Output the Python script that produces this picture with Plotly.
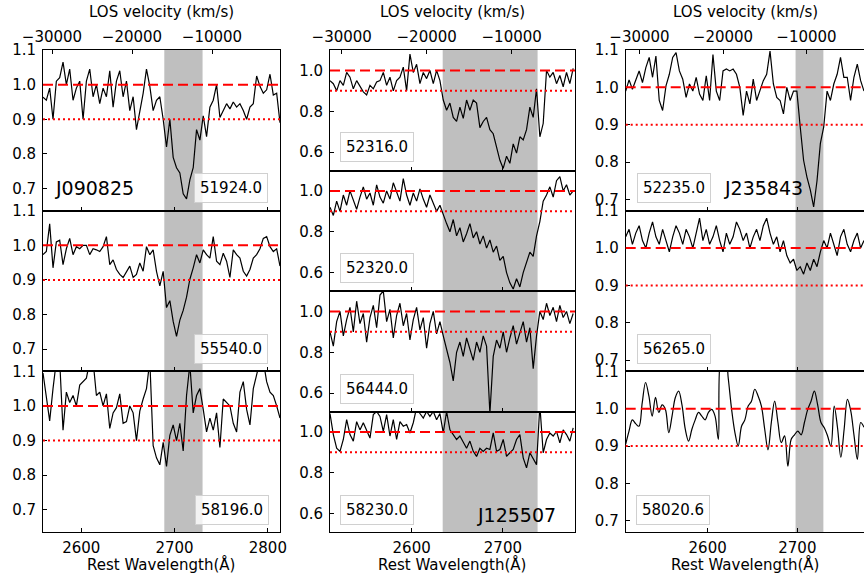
import numpy as np
import plotly.graph_objects as go

# ---- data (normalised flux, regular wavelength sampling) ----
objects = ["J090825", "J125507", "J235843"]
mjd_j0908 = ["51924.0", "55540.0", "58196.0"]
mjd_j1255 = ["52316.0", "52320.0", "56444.0", "58230.0"]
mjd_j2358 = ["52235.0", "56265.0", "58020.6"]

wave_j0908 = (2559.0, 2813.0)
wave_j1255 = (2510.5, 2777.0)
wave_j2358 = (2508.6, 2774.3)

flux_j0908_51924 = [0.964, 0.955, 0.99, 0.90, 1.01, 1.02, 1.065, 1.00, 1.045, 0.955, 0.99, 1.01,
                    0.90, 1.01, 1.045, 0.965, 1.0, 0.945, 0.99, 0.965, 1.04, 0.935, 1.01, 1.04,
                    0.965, 1.01, 0.925, 0.965, 0.87, 0.925, 0.975, 1.045, 0.995, 0.925, 0.955, 0.965,
                    0.90, 0.82, 0.90, 0.79, 0.76, 0.745, 0.685, 0.67, 0.725, 0.76, 0.87, 0.84,
                    0.91, 0.85, 0.935, 0.955, 1.0, 0.905, 0.925, 0.945, 0.93, 0.95, 0.935, 0.945,
                    0.925, 0.90, 0.935, 0.945, 1.025, 0.995, 0.975, 0.985, 1.03, 0.97, 0.975, 0.89]
flux_j0908_55540 = [0.973, 0.982, 1.062, 0.935, 1.01, 1.015, 0.944, 0.99, 1.02, 0.973, 0.996, 0.99,
                    1.0, 1.0, 0.973, 0.99, 0.987, 0.982, 0.996, 1.025, 0.944, 0.958, 0.93, 0.916,
                    0.907, 0.925, 0.94, 0.907, 0.916, 0.949, 0.925, 0.996, 0.973, 0.987, 0.925, 0.883,
                    0.925, 0.82, 0.84, 0.78, 0.737, 0.784, 0.812, 0.85, 0.902, 0.935, 0.973, 0.949,
                    0.987, 0.973, 0.963, 1.025, 0.954, 0.944, 0.977, 0.954, 0.907, 0.987, 0.973, 0.963,
                    0.925, 0.911, 0.93, 0.963, 0.973, 0.99, 1.02, 1.025, 0.996, 0.982, 0.99, 0.94]
flux_j0908_58196 = [1.095, 1.02, 0.957, 1.05, 1.13, 1.13, 0.93, 1.04, 1.01, 1.03, 1.0, 1.06,
                    1.07, 1.08, 1.13, 1.13, 1.03, 1.04, 1.0, 1.035, 0.935, 0.98, 0.995, 1.035,
                    0.95, 0.955, 1.0, 0.98, 0.90, 0.985, 1.02, 1.05, 1.13, 0.885, 0.85, 0.83,
                    0.895, 0.825, 0.915, 0.945, 0.90, 0.95, 0.87, 1.03, 1.12, 0.98, 1.03, 1.05,
                    0.99, 0.925, 0.965, 0.93, 0.98, 0.88, 1.02, 1.01, 1.0, 0.95, 0.925, 1.04,
                    1.07, 0.99, 0.945, 1.05, 1.09, 1.13, 1.13, 1.07, 1.04, 1.03, 1.0, 0.965]

flux_j1255_52316 = [0.95, 0.935, 0.90, 0.95, 0.927, 0.99, 0.967, 0.91, 0.95, 0.92, 0.895, 0.88,
                    0.927, 0.91, 0.943, 0.95, 0.99, 0.927, 0.967, 0.90, 0.95, 0.967, 1.016, 0.90,
                    1.08, 0.99, 1.03, 0.935, 0.99, 0.96, 1.0, 0.935, 1.0, 0.95, 0.855, 0.805,
                    0.84, 0.77, 0.75, 0.82, 0.765, 0.855, 0.805, 0.855, 0.84, 0.72, 0.75, 0.77,
                    0.71, 0.69, 0.625, 0.56, 0.52, 0.58, 0.545, 0.64, 0.595, 0.675, 0.66, 0.71,
                    0.82, 0.77, 0.91, 0.675, 0.74, 1.0, 0.967, 0.99, 0.935, 0.975, 0.92, 0.99,
                    0.935, 1.01]
flux_j1255_52320 = [0.92, 0.88, 0.95, 0.90, 0.98, 0.93, 1.0, 0.95, 0.91, 0.97, 1.02, 0.96,
                    0.99, 0.93, 1.03, 0.97, 0.94, 1.0, 0.96, 1.04, 0.99, 0.95, 1.06, 0.98,
                    0.93, 0.99, 0.95, 1.01, 0.96, 0.92, 0.98, 0.94, 0.90, 0.93, 0.88, 0.84,
                    0.80, 0.86, 0.78, 0.82, 0.75, 0.79, 0.84, 0.77, 0.80, 0.74, 0.78, 0.72,
                    0.76, 0.70, 0.73, 0.66, 0.68, 0.60, 0.55, 0.52, 0.57, 0.53, 0.60, 0.65,
                    0.70, 0.68, 0.78, 0.85, 0.95, 0.98, 1.02, 0.97, 1.05, 1.07, 1.0, 1.03,
                    0.98, 1.0]
flux_j1255_56444 = [0.90, 0.83, 0.95, 1.0, 0.88, 0.96, 1.02, 0.90, 1.05, 0.94, 0.99, 0.85,
                    0.97, 1.03, 0.92, 1.08, 1.10, 0.95, 1.01, 0.87, 0.98, 1.04, 0.93, 0.99,
                    0.86, 0.96, 1.02, 0.91, 0.97, 0.82, 0.94, 1.0, 0.89, 0.95, 0.88, 0.82,
                    0.75, 0.66, 0.80, 0.85, 0.78, 0.87, 0.82, 0.76, 0.85, 0.80, 0.88, 0.83,
                    0.50, 0.78, 0.86, 0.82, 0.90, 0.80, 0.87, 0.93, 0.84, 0.89, 0.95, 0.85,
                    0.92, 0.72, 0.88, 1.0, 0.96, 1.04, 0.98, 1.02, 0.95, 1.03, 0.97, 1.0,
                    0.94, 0.99]
flux_j1255_58230 = [1.09, 0.987, 0.92, 0.905, 0.963, 1.06, 0.987, 0.955, 1.05, 1.01, 1.045, 1.003,
                    0.97, 1.085, 1.10, 1.076, 1.003, 1.085, 0.98, 1.06, 0.963, 1.05, 1.028, 1.036,
                    0.995, 1.045, 1.12, 1.09, 1.068, 1.10, 1.076, 1.10, 1.06, 1.09, 0.995, 1.10,
                    1.01, 0.987, 0.963, 0.98, 0.946, 0.92, 0.955, 0.905, 0.88, 0.92, 0.905, 0.92,
                    0.914, 0.995, 0.905, 0.914, 0.963, 0.88, 0.898, 0.914, 0.963, 0.987, 0.873, 0.824,
                    0.898, 0.865, 0.84, 1.13, 0.898, 0.963, 0.995, 0.98, 1.003, 0.946, 1.01, 0.987,
                    0.955, 1.02]

flux_j2358_52235 = [0.99, 1.02, 0.995, 1.018, 1.044, 1.013, 1.053, 1.08, 1.027, 1.084, 0.965, 0.938,
                    1.004, 1.035, 1.08, 1.093, 1.044, 1.022, 0.973, 1.009, 0.99, 1.027, 0.982, 0.965,
                    1.031, 0.965, 1.088, 0.99, 0.965, 1.044, 1.049, 1.044, 1.049, 1.035, 1.0, 0.925,
                    0.99, 0.956, 1.022, 0.965, 0.99, 1.018, 1.035, 1.097, 1.009, 0.973, 0.965, 0.929,
                    1.0, 0.965, 0.99, 0.99, 0.894, 0.805, 0.76, 0.726, 0.68, 0.75, 0.85, 0.894,
                    0.99, 0.965, 1.009, 1.035, 1.08, 1.027, 1.027, 0.965, 1.027, 1.062, 1.018, 0.99]
flux_j2358_56265 = [1.03, 1.05, 1.01, 1.04, 1.06, 1.02, 1.0, 1.04, 1.07, 1.03, 1.01, 1.05,
                    1.02, 0.99, 1.03, 1.06, 1.04, 1.01, 1.05, 1.03, 1.0, 1.04, 1.08, 1.02,
                    1.05, 1.01, 1.03, 1.06, 1.02, 0.99, 1.04, 1.01, 1.03, 1.07, 1.05, 1.02,
                    1.04, 1.0, 1.03, 1.05, 1.02, 1.06, 1.08, 1.04, 1.01, 1.03, 0.99, 1.02,
                    0.98, 0.96, 0.97, 0.94, 0.95, 0.93, 0.96, 0.94, 0.97, 0.95, 0.99, 1.02,
                    1.0, 1.04, 1.01, 0.98, 1.03, 1.05, 1.01, 0.99, 1.02, 1.04, 1.0, 1.02]
flux_j2358_58020 = [0.905, 0.94, 0.97, 0.96, 0.953, 1.016, 1.07, 1.034, 0.98, 1.03, 0.99, 1.01,
                    0.998, 0.936, 0.98, 1.03, 1.047, 1.01, 0.945, 0.913, 0.945, 0.97, 0.99, 0.98,
                    0.97, 0.99, 0.998, 0.98, 0.918, 1.15, 1.15, 1.08, 0.998, 0.936, 0.90, 0.953,
                    0.97, 1.007, 1.02, 1.052, 1.034, 1.007, 0.945, 0.89, 0.963, 1.02, 0.963, 0.909,
                    0.927, 0.846, 0.918, 0.93, 0.94, 0.93, 0.963, 0.998, 1.02, 1.047, 1.01, 0.963,
                    0.949, 0.927, 0.90, 1.007, 0.949, 0.87, 0.945, 1.025, 0.994, 0.927, 0.864, 0.963,
                    0.95]

# absorption windows (Å) and axis limits per object
shade_j0908 = (2689, 2730)
shade_j1255 = (2634, 2738)
shade_j2358 = (2698, 2729)
velocity_ticks = [-30000, -20000, -10000]

# ---- layout helpers ----
W, H = 864, 574
FONT = "DejaVu Sans"


def fy(p):
    return 1 - p / H


def ax_id(letter, n):
    return letter if n == 1 else f"{letter}{n}"


columns = [
    dict(name=objects[0], mjd=mjd_j0908, wave=wave_j0908, shade=shade_j0908,
         flux=[flux_j0908_51924, flux_j0908_55540, flux_j0908_58196],
         smooth=[False, False, False],
         xdom=(43 / W, 280 / W), xrange=[2559, 2813], yrange=[0.636, 1.1],
         yticks=[0.7, 0.8, 0.9, 1.0, 1.1], xticks=[2600, 2700, 2800],
         edges=[50, 210.7, 371.3, 532], vrange=[-31125, -1500],
         labels=[(231, 188), (231, 349), (232, 510)], name_pos=(94, 188), mirror=True,
         cx=161),
    dict(name=objects[1], mjd=mjd_j1255, wave=wave_j1255, shade=shade_j1255,
         flux=[flux_j1255_52316, flux_j1255_52320, flux_j1255_56444, flux_j1255_58230],
         smooth=[False, False, False, False],
         xdom=(330 / W, 575 / W), xrange=[2510.5, 2779], yrange=[0.51, 1.1],
         yticks=[0.6, 0.8, 1.0], xticks=[2600, 2700],
         edges=[50, 170.5, 291, 411.5, 532], vrange=[-31376, -2552],
         labels=[(377, 147), (377, 268), (377, 389), (377, 510)], name_pos=(516, 515), mirror=True,
         cx=452),
    dict(name=objects[2], mjd=mjd_j2358, wave=wave_j2358, shade=shade_j2358,
         flux=[flux_j2358_52235, flux_j2358_56265, flux_j2358_58020],
         smooth=[False, False, True],
         xdom=(625.7 / W, 1.0), xrange=[2508.6, 2774.3], yrange=[0.67, 1.1],
         yticks=[0.7, 0.8, 0.9, 1.0, 1.1], xticks=[2600, 2700],
         edges=[50, 210.7, 371.3, 532], vrange=[-31653, -3114],
         labels=[(674, 188), (674, 349), (673, 510)], name_pos=(763, 188), mirror=False,
         cx=745),
]

fig = go.Figure()
layout = dict(template="none", width=W, height=H, margin=dict(l=0, r=0, t=0, b=0, autoexpand=False),
              plot_bgcolor="white", paper_bgcolor="white", showlegend=False,
              font=dict(family=FONT, size=15, color="black"))
shapes, annotations = [], []
axis_style = dict(showline=True, linecolor="black", linewidth=1, ticks="inside", ticklen=4,
                  tickcolor="black", tickwidth=1, showgrid=False, zeroline=False,
                  automargin=False, tickfont=dict(family=FONT, size=15, color="black"))

n = 0
for c, col in enumerate(columns):
    nrows = len(col["flux"])
    for r in range(nrows):
        n += 1
        xa, ya = ax_id("x", n), ax_id("y", n)
        flux = col["flux"][r]
        wave = np.linspace(col["wave"][0], col["wave"][1], len(flux))
        fig.add_trace(go.Scatter(x=wave, y=flux, mode="lines", xaxis=xa, yaxis=ya,
                                 line=dict(color="black", width=1.2,
                                           shape="spline" if col["smooth"][r] else "linear"),
                                 hoverinfo="skip"))
        top, bot = col["edges"][r], col["edges"][r + 1]
        key = "" if n == 1 else str(n)
        layout[f"xaxis{key}"] = dict(axis_style, domain=list(col["xdom"]), range=col["xrange"],
                                     anchor=ya, mirror=True, tickvals=col["xticks"],
                                     showticklabels=(r == nrows - 1), ticklabelstandoff=2)
        layout[f"yaxis{key}"] = dict(axis_style, domain=[fy(bot), fy(top)], range=col["yrange"],
                                     anchor=xa, mirror=col["mirror"], tickvals=col["yticks"],
                                     tickformat=".1f", ticklabelstandoff=3)
        # shaded absorption window
        shapes.append(dict(type="rect", xref=xa, yref=f"{ya} domain", x0=col["shade"][0],
                           x1=col["shade"][1], y0=0, y1=1, fillcolor="#bfbfbf",
                           line=dict(width=0), layer="below"))
        # continuum and 90% level
        shapes.append(dict(type="line", xref=f"{xa} domain", yref=ya, x0=0, x1=1, y0=1.0, y1=1.0,
                           line=dict(color="red", width=2, dash="10px,5px"), layer="above"))
        shapes.append(dict(type="line", xref=f"{xa} domain", yref=ya, x0=0, x1=1, y0=0.9, y1=0.9,
                           line=dict(color="red", width=2, dash="2px,3px"), layer="above"))
        lx, ly = col["labels"][r]
        annotations.append(dict(text=col["mjd"][r], xref="paper", yref="paper", x=lx / W, y=fy(ly),
                                xanchor="center", yanchor="middle", showarrow=False,
                                font=dict(family=FONT, size=15, color="black"),
                                bgcolor="rgba(255,255,255,0.8)", bordercolor="#d0d0d0",
                                borderwidth=1, borderpad=5))
        if r == 0:
            # top axis in LOS velocity
            vn = 11 + c
            layout[f"xaxis{vn}"] = dict(axis_style, overlaying=xa, anchor=ya, side="top",
                                        range=col["vrange"], showline=False,
                                        tickvals=velocity_ticks,
                                        ticktext=[f"\u2212{abs(v)}" for v in velocity_ticks],
                                        ticklabelstandoff=4)
            fig.add_trace(go.Scatter(x=[], y=[], xaxis=f"x{vn}", yaxis=ya, mode="lines",
                                     hoverinfo="skip"))
    nx, ny = col["name_pos"]
    annotations.append(dict(text=col["name"], xref="paper", yref="paper", x=nx / W, y=fy(ny),
                            xanchor="center", yanchor="middle", showarrow=False,
                            font=dict(family=FONT, size=19, color="black")))
    annotations.append(dict(text="LOS velocity (km/s)", xref="paper", yref="paper",
                            x=col["cx"] / W, y=fy(12), xanchor="center", yanchor="middle",
                            showarrow=False, font=dict(family=FONT, size=15, color="black")))
    annotations.append(dict(text="Rest Wavelength(Å)", xref="paper", yref="paper",
                            x=col["cx"] / W, y=fy(564), xanchor="center", yanchor="middle",
                            showarrow=False, font=dict(family=FONT, size=15, color="black")))

layout["shapes"] = shapes
layout["annotations"] = annotations
fig.update_layout(**layout)
# the page's default body margin would shift the figure by 8 px
fig.write_html("out.html", config={"displayModeBar": False},
               post_script="document.body.style.margin='0';")
